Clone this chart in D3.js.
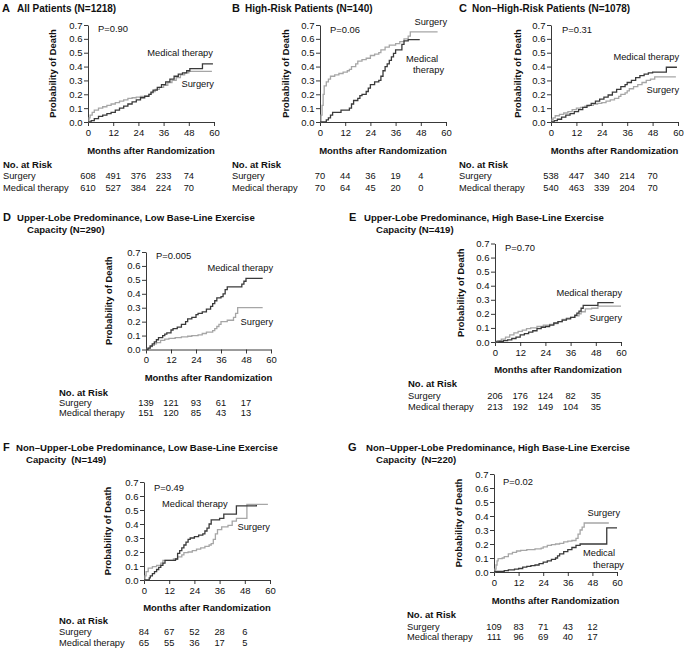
<!DOCTYPE html>
<html><head><meta charset="utf-8">
<script src="https://cdn.jsdelivr.net/npm/d3@7"></script>
<style>
body{margin:0;background:#fff;}
svg text{font-family:"Liberation Sans",Arial,sans-serif;fill:#111;}
</style></head><body>
<svg id="chart" width="685" height="652"></svg>
<script>
// ---------- data ----------
const monthTicks = [0, 12, 24, 36, 48, 60];
const probTicks = [0, 0.1, 0.2, 0.3, 0.4, 0.5, 0.6, 0.7];
const riskMonths = [0, 12, 24, 36, 48];
const seriesNames = ["Surgery", "Medical therapy"];

const panelLetters = ["A", "B", "C", "D", "E", "F", "G"];
const panelTitles = [
  ["All Patients (N=1218)"],
  ["High-Risk Patients (N=140)"],
  ["Non–High-Risk Patients (N=1078)"],
  ["Upper-Lobe Predominance, Low Base-Line Exercise", "Capacity (N=290)"],
  ["Upper-Lobe Predominance, High Base-Line Exercise", "Capacity (N=419)"],
  ["Non–Upper-Lobe Predominance, Low Base-Line Exercise", "Capacity  (N=149)"],
  ["Non–Upper-Lobe Predominance, High Base-Line Exercise", "Capacity  (N=220)"]
];
const pValues = ["P=0.90", "P=0.06", "P=0.31", "P=0.005", "P=0.70", "P=0.49", "P=0.02"];

// Kaplan-Meier steps [month, probability of death]
const surgeryA = [[0,0],[0.5,0.03],[1,0.05],[2,0.07],[3,0.085],[5,0.1],[7,0.11],[9,0.12],[11,0.13],[13,0.14],[15,0.15],[17,0.16],[19,0.17],[21,0.175],[23,0.18],[25,0.185],[27,0.19],[29,0.2],[30,0.21],[31,0.22],[32,0.235],[34,0.25],[36,0.265],[38,0.285],[40,0.3],[42,0.32],[44,0.34],[46,0.355],[48,0.365],[59,0.365]];
const medicalA = [[0,0],[1.5,0.01],[3,0.025],[5,0.04],[7,0.05],[9,0.06],[11,0.07],[13,0.085],[15,0.1],[17,0.115],[19,0.13],[21,0.145],[23,0.16],[25,0.175],[27,0.185],[29,0.2],[30,0.215],[31,0.23],[33,0.25],[35,0.27],[37,0.29],[39,0.31],[41,0.33],[43,0.345],[45,0.355],[47,0.37],[48.5,0.385],[54.5,0.42],[59.5,0.42]];

const surgeryB = [[0,0],[0.5,0.05],[1,0.12],[1.5,0.2],[2,0.26],[3,0.29],[4,0.31],[5,0.33],[7,0.34],[9,0.35],[11,0.36],[13,0.37],[14,0.38],[15,0.4],[17,0.42],[18,0.44],[20,0.45],[22,0.46],[24,0.48],[26,0.49],[28,0.5],[29,0.52],[31,0.54],[33,0.555],[36,0.565],[38,0.58],[40,0.6],[42,0.62],[43,0.65],[56,0.65]];
const medicalB = [[0,0],[3,0.015],[4,0.03],[5,0.05],[6,0.07],[10,0.085],[14,0.1],[15,0.13],[16,0.155],[18,0.17],[19,0.19],[20,0.2],[22,0.22],[23,0.245],[24,0.27],[26,0.29],[28,0.3],[29,0.33],[30,0.37],[31,0.4],[32,0.42],[33,0.445],[34,0.47],[35,0.495],[36,0.52],[38,0.52],[39,0.56],[40,0.585],[42,0.595],[47.5,0.595]];

const surgeryC = [[0,0],[0.5,0.02],[1,0.03],[2,0.045],[4,0.055],[6,0.065],[8,0.075],[10,0.09],[12,0.1],[14,0.105],[16,0.115],[18,0.12],[20,0.13],[22,0.135],[24,0.14],[26,0.15],[28,0.16],[30,0.17],[32,0.185],[33,0.2],[35,0.21],[36,0.225],[37,0.24],[39,0.255],[41,0.27],[43,0.285],[45,0.3],[47,0.31],[49,0.325],[59,0.325]];
const medicalC = [[0,0],[1.5,0.01],[3,0.02],[5,0.035],[7,0.05],[9,0.06],[11,0.075],[13,0.09],[15,0.105],[17,0.12],[19,0.135],[21,0.15],[23,0.165],[25,0.18],[27,0.195],[29,0.215],[31,0.235],[33,0.255],[35,0.27],[36,0.285],[38,0.3],[40,0.32],[42,0.335],[44,0.345],[46,0.355],[48,0.36],[54.5,0.395],[59.5,0.395]];

const surgeryD = [[0,0],[1,0.01],[2,0.02],[3,0.03],[4,0.04],[5,0.05],[7,0.065],[9,0.075],[11,0.08],[14,0.085],[17,0.09],[20,0.095],[22,0.1],[25,0.105],[27,0.115],[29,0.125],[32,0.135],[33,0.15],[34,0.165],[35,0.18],[36,0.2],[39,0.21],[42,0.23],[43,0.26],[44,0.3],[56,0.3]];
const medicalD = [[0,0],[1,0.01],[2,0.025],[3,0.04],[4,0.055],[5,0.07],[6,0.085],[8,0.1],[9,0.11],[10,0.12],[12,0.14],[13,0.15],[15,0.16],[17,0.18],[19,0.2],[20,0.22],[22,0.23],[24,0.25],[25,0.26],[27,0.27],[29,0.29],[31,0.31],[32,0.33],[33,0.35],[34,0.37],[36,0.38],[37,0.4],[38,0.43],[39,0.45],[46,0.47],[47,0.49],[48,0.51],[56,0.51]];

const surgeryE = [[0,0],[1,0.01],[3,0.02],[5,0.035],[7,0.05],[9,0.065],[11,0.075],[13,0.085],[15,0.095],[17,0.1],[20,0.11],[23,0.12],[26,0.125],[28,0.13],[30,0.145],[32,0.16],[34,0.17],[36,0.175],[38,0.185],[40,0.2],[41,0.215],[43,0.235],[46,0.24],[49,0.255],[60,0.255]];
const medicalE = [[0,0],[2,0.005],[4,0.01],[6,0.015],[8,0.025],[10,0.035],[12,0.05],[14,0.06],[16,0.07],[18,0.08],[20,0.095],[22,0.105],[24,0.11],[26,0.12],[28,0.135],[30,0.145],[32,0.155],[34,0.165],[36,0.175],[38,0.19],[39,0.205],[40,0.22],[41,0.24],[42,0.26],[49,0.28],[56.5,0.28]];

const surgeryF = [[0,0],[0.5,0.03],[1,0.06],[2,0.085],[4,0.095],[6,0.105],[8,0.12],[9,0.14],[12,0.14],[14,0.15],[16,0.165],[18,0.18],[19,0.195],[21,0.2],[23,0.21],[25,0.22],[27,0.23],[29,0.24],[31,0.25],[32,0.26],[33,0.29],[34,0.33],[35,0.36],[37,0.38],[40,0.39],[42,0.42],[44,0.44],[48,0.44],[49,0.54],[59,0.54]];
const medicalF = [[0,0],[2.5,0.015],[3,0.03],[4,0.045],[5,0.06],[6,0.075],[7,0.09],[8,0.105],[9,0.12],[10,0.14],[15,0.15],[16,0.19],[17,0.21],[18,0.23],[19,0.25],[20,0.27],[21,0.29],[22,0.3],[24,0.31],[26,0.32],[28,0.33],[29,0.35],[30,0.37],[31,0.4],[32,0.43],[36,0.44],[38,0.47],[44,0.53],[53.5,0.535]];

const surgeryG = [[0,0],[0.5,0.02],[1,0.05],[1.5,0.08],[2,0.095],[4,0.1],[5,0.11],[7,0.13],[9,0.14],[11,0.15],[13,0.155],[16,0.16],[20,0.165],[23,0.17],[24,0.18],[26,0.19],[28,0.195],[30,0.2],[32,0.205],[34,0.215],[36,0.22],[38,0.225],[40,0.24],[41,0.27],[42,0.3],[43,0.32],[44,0.35],[56,0.35]];
const medicalG = [[0,0],[0.5,0.005],[5,0.01],[7,0.015],[10,0.02],[12,0.025],[14,0.035],[16,0.04],[18,0.045],[20,0.05],[22,0.06],[24,0.07],[26,0.08],[28,0.09],[30,0.1],[31,0.115],[32,0.13],[34,0.145],[36,0.16],[38,0.175],[40,0.19],[42,0.2],[55,0.315],[60,0.315]];

const surgerySeries = [surgeryA, surgeryB, surgeryC, surgeryD, surgeryE, surgeryF, surgeryG];
const medicalSeries = [medicalA, medicalB, medicalC, medicalD, medicalE, medicalF, medicalG];

const riskSurgery = [
  [608, 491, 376, 233, 74],
  [70, 44, 36, 19, 4],
  [538, 447, 340, 214, 70],
  [139, 121, 93, 61, 17],
  [206, 176, 124, 82, 35],
  [84, 67, 52, 28, 6],
  [109, 83, 71, 43, 12]
];
const riskMedical = [
  [610, 527, 384, 224, 70],
  [70, 64, 45, 20, 0],
  [540, 463, 339, 204, 70],
  [151, 120, 85, 43, 13],
  [213, 192, 149, 104, 35],
  [65, 55, 36, 17, 5],
  [111, 96, 69, 40, 17]
];

// ---------- layout (pixels) ----------
const layout = [
  {left:88,  right:214, top:25,    bottom:122,   letterX:2,   titleX:17,  line2X:17,  titleY:[8],       titleSize:10,  xTitleY:150.5, yTitleX:52,  riskX:3,   riskY:[164,176,188.3]},
  {left:320, right:446, top:25,    bottom:122,   letterX:232, titleX:245, line2X:245, titleY:[8],       titleSize:10,  xTitleY:150.5, yTitleX:285, riskX:232, riskY:[164,176,188.3]},
  {left:551, right:678, top:25,    bottom:122,   letterX:459, titleX:472, line2X:472, titleY:[8],       titleSize:10,  xTitleY:150.5, yTitleX:517, riskX:459, riskY:[164,176,188.3]},
  {left:146, right:271, top:252,   bottom:349.5, letterX:3,   titleX:17,  line2X:27,  titleY:[217,229], titleSize:9.6, xTitleY:377,   yTitleX:108, riskX:59,  riskY:[392,402.5,412.8]},
  {left:495, right:621, top:243.5, bottom:342,   letterX:349, titleX:364, line2X:376, titleY:[217,229], titleSize:9.6, xTitleY:369,   yTitleX:460, riskX:408, riskY:[383.5,396,407]},
  {left:144, right:270, top:482,   bottom:580,   letterX:3,   titleX:16,  line2X:26,  titleY:[447,459], titleSize:9.6, xTitleY:607,   yTitleX:107, riskX:59,  riskY:[620.8,632.3,643.3]},
  {left:494, right:617, top:474,   bottom:572,   letterX:348, titleX:366, line2X:376, titleY:[447,459], titleSize:9.6, xTitleY:600,   yTitleX:458, riskX:407, riskY:[614.3,627,637.3]}
];
// annotation positions in data units [month, prob, anchor]
const annot = [
  {p:[4.8,0.678], med:[[59.5,0.498,"end","Medical therapy"]], surg:[[60,0.274,"end","Surgery"]]},
  {p:[4.8,0.664], med:[[41,0.455,"start","Medical"],[44.3,0.375,"start","therapy"]], surg:[[60.5,0.72,"end","Surgery"]]},
  {p:[5.2,0.664], med:[[60.5,0.469,"end","Medical therapy"]], surg:[[60.5,0.231,"end","Surgery"]]},
  {p:[4.8,0.673], med:[[61,0.585,"end","Medical therapy"]], surg:[[61,0.197,"end","Surgery"]]},
  {p:[4.8,0.671], med:[[60.5,0.346,"end","Medical therapy"]], surg:[[60.5,0.173,"end","Surgery"]]},
  {p:[4.8,0.664], med:[[8.6,0.543,"start","Medical therapy"]], surg:[[60,0.379,"end","Surgery"]]},
  {p:[4.4,0.65],  med:[[43.4,0.136,"start","Medical"],[48.3,0.05,"start","therapy"]], surg:[[61.5,0.421,"end","Surgery"]]}
];

const colSurg = "#a6a6a6", colMed = "#3a3a3a";
const svg = d3.select("#chart");

layout.forEach((L, i) => {
  const g = svg.append("g");
  const x = d3.scaleLinear().domain([0, 60]).range([L.left, L.right]);
  const y = d3.scaleLinear().domain([0, 0.7]).range([L.bottom, L.top]);

  // title
  g.append("text").attr("x", L.letterX).attr("y", L.titleY[0]).attr("dominant-baseline","central")
    .attr("font-size", 11).attr("font-weight", "bold").text(panelLetters[i]);
  panelTitles[i].forEach((t, k) => {
    g.append("text").attr("x", k === 0 ? L.titleX : L.line2X).attr("y", L.titleY[k])
      .attr("dominant-baseline","central").attr("font-size", L.titleSize).attr("font-weight","bold")
      .style("white-space","pre").text(t);
  });

  // axes
  const ya = g.append("g").attr("transform", `translate(${L.left},0)`)
    .call(d3.axisLeft(y).tickValues(probTicks).tickFormat(d3.format(".1f")).tickSize(4).tickSizeOuter(0).tickPadding(1.5));
  const xa = g.append("g").attr("transform", `translate(0,${L.bottom})`)
    .call(d3.axisBottom(x).tickValues(monthTicks).tickSize(4).tickSizeOuter(0).tickPadding(3.2));
  [ya, xa].forEach(a => {
    a.selectAll("text").attr("font-size", 9.5).attr("font-family", null).style("fill","#111");
    a.selectAll("path,line").attr("stroke", "#222").attr("stroke-width", 0.9);
    a.attr("font-family", null);
  });

  // axis titles
  g.append("text").attr("transform", `translate(${L.yTitleX},${(L.top + L.bottom) / 2}) rotate(-90)`)
    .attr("text-anchor","middle").attr("dominant-baseline","central")
    .attr("font-size", 9.4).attr("font-weight","bold").text("Probability of Death");
  g.append("text").attr("x", (L.left + L.right) / 2).attr("y", L.xTitleY)
    .attr("text-anchor","middle").attr("dominant-baseline","central")
    .attr("font-size", 9.5).attr("font-weight","bold").text("Months after Randomization");

  // curves
  const line = d3.line().x(d => x(d[0])).y(d => y(d[1])).curve(d3.curveStepAfter);
  g.append("path").datum(surgerySeries[i]).attr("d", line).attr("fill","none")
    .attr("stroke", colSurg).attr("stroke-width", 1.3);
  g.append("path").datum(medicalSeries[i]).attr("d", line).attr("fill","none")
    .attr("stroke", colMed).attr("stroke-width", 1.3);

  // annotations
  const A = annot[i];
  g.append("text").attr("x", x(A.p[0])).attr("y", y(A.p[1])).attr("dominant-baseline","central")
    .attr("font-size", 9.4).text(pValues[i]);
  A.med.concat(A.surg).forEach(a => {
    g.append("text").attr("x", x(a[0])).attr("y", y(a[1])).attr("text-anchor", a[2])
      .attr("dominant-baseline","central").attr("font-size", 9.3).text(a[3]);
  });

  // risk table
  g.append("text").attr("x", L.riskX).attr("y", L.riskY[0]).attr("dominant-baseline","central")
    .attr("font-size", 9.5).attr("font-weight","bold").text("No. at Risk");
  [riskSurgery[i], riskMedical[i]].forEach((row, r) => {
    g.append("text").attr("x", L.riskX).attr("y", L.riskY[r + 1]).attr("dominant-baseline","central")
      .attr("font-size", 9.3).text(seriesNames[r]);
    g.selectAll(null).data(row).enter().append("text")
      .attr("x", (d, k) => x(riskMonths[k])).attr("y", L.riskY[r + 1])
      .attr("text-anchor","middle").attr("dominant-baseline","central")
      .attr("font-size", 9.3).text(d => d);
  });
});
</script>
</body></html>
